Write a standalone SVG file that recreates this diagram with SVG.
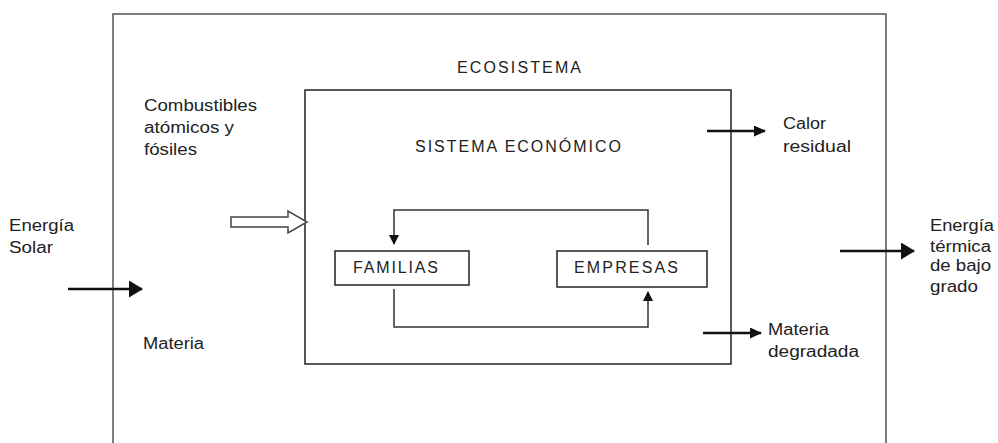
<svg xmlns="http://www.w3.org/2000/svg" width="998" height="443" viewBox="0 0 998 443">
<style>
text{font-family:"Liberation Sans",Arial,sans-serif;font-size:16px;fill:#222}
.box{fill:none;stroke:#222;stroke-width:1.5}
.ln{fill:none;stroke:#333;stroke-width:1.5}
.thick{fill:none;stroke:#111;stroke-width:2.5}
</style>
<defs>
<marker id="ah" markerWidth="12" markerHeight="11" refX="11" refY="5.5" orient="auto" markerUnits="userSpaceOnUse">
<path d="M0,0 L12,5.5 L0,11 Z" fill="#111"/>
</marker>
<marker id="ahs" markerWidth="10" markerHeight="10" refX="9" refY="5" orient="auto" markerUnits="userSpaceOnUse">
<path d="M0,0 L10,5 L0,10 Z" fill="#111"/>
</marker>
<marker id="ahb" markerWidth="14" markerHeight="17" refX="13" refY="8.5" orient="auto" markerUnits="userSpaceOnUse">
<path d="M0,0 L14,8.5 L0,17 Z" fill="#111"/>
</marker>
</defs>
<g id="ecosistema">
<path d="M113,445 L113,14 L886,14 L886,445" fill="none" stroke="#555" stroke-width="1.5"/>
<text x="457" y="73" textLength="124" lengthAdjust="spacing">ECOSISTEMA</text>
</g>
<g id="sistema-economico">
<rect class="box" x="305" y="90" width="426" height="274"/>
<text x="415" y="152" textLength="206" lengthAdjust="spacing">SISTEMA ECONÓMICO</text>
</g>
<g id="familias">
<rect class="box" x="335" y="251" width="134" height="34"/>
<text x="353" y="273" textLength="85" lengthAdjust="spacing">FAMILIAS</text>
</g>
<g id="empresas">
<rect class="box" x="557" y="251" width="150" height="36"/>
<text x="574" y="273" textLength="104" lengthAdjust="spacing">EMPRESAS</text>
</g>
<g id="labels">
<text x="144" y="111" textLength="113" lengthAdjust="spacingAndGlyphs">Combustibles</text>
<text x="144" y="133" textLength="90" lengthAdjust="spacingAndGlyphs">atómicos y</text>
<text x="144" y="155" textLength="53" lengthAdjust="spacingAndGlyphs">fósiles</text>
<text x="9" y="231" textLength="65" lengthAdjust="spacingAndGlyphs">Energía</text>
<text x="9" y="253" textLength="44" lengthAdjust="spacingAndGlyphs">Solar</text>
<text x="143" y="349" textLength="61" lengthAdjust="spacingAndGlyphs">Materia</text>
<text x="783" y="129" textLength="43" lengthAdjust="spacingAndGlyphs">Calor</text>
<text x="783" y="152" textLength="68" lengthAdjust="spacingAndGlyphs">residual</text>
<text x="768" y="335" textLength="61" lengthAdjust="spacingAndGlyphs">Materia</text>
<text x="768" y="357" textLength="91" lengthAdjust="spacingAndGlyphs">degradada</text>
<text x="930" y="231" textLength="64" lengthAdjust="spacingAndGlyphs">Energía</text>
<text x="930" y="252" textLength="61" lengthAdjust="spacingAndGlyphs">térmica</text>
<text x="930" y="271" textLength="61" lengthAdjust="spacingAndGlyphs">de bajo</text>
<text x="930" y="292" textLength="48" lengthAdjust="spacingAndGlyphs">grado</text>
</g>
<g id="connectors">
<path class="ln" d="M648,245 L648,210 L394,210 L394,244" marker-end="url(#ahs)"/>
<path class="ln" d="M394,289 L394,327 L648,327 L648,292" marker-end="url(#ahs)"/>
<path class="thick" d="M68,289 L142,289" marker-end="url(#ahb)"/>
<path d="M231,217 L288,217 L288,211 L307,222 L288,233 L288,227 L231,227 Z" fill="#fff" stroke="#444" stroke-width="1.5"/>
<path class="thick" d="M707,131 L765,131" marker-end="url(#ah)"/>
<path class="thick" d="M703,333 L761,333" marker-end="url(#ah)"/>
<path class="thick" d="M840,251 L914,251" marker-end="url(#ahb)"/>
</g>
</svg>
